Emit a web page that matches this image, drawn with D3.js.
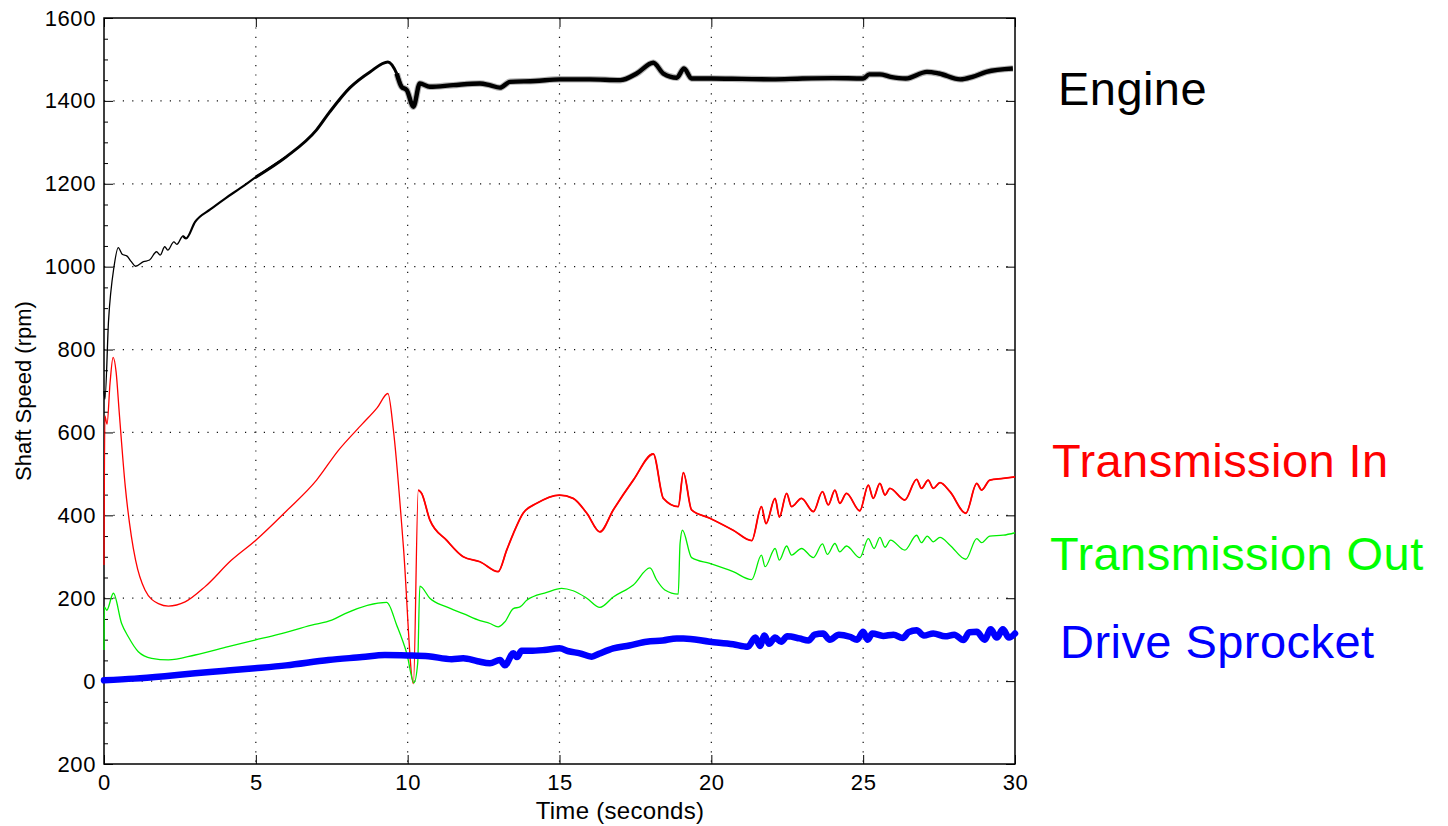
<!DOCTYPE html>
<html>
<head>
<meta charset="utf-8">
<script src="https://cdn.jsdelivr.net/npm/d3@7/dist/d3.min.js"></script>
<style>
  html, body { margin: 0; padding: 0; background: #fff; }
  svg { display: block; font-family: "Liberation Sans", Arial, Helvetica, sans-serif; }
</style>
</head>
<body>
<svg id="chart" width="1448" height="826"></svg>
<script>
// ---------------- DATA ----------------
const xTickValues = [0, 5, 10, 15, 20, 25, 30];
const xTickLabels = ["0", "5", "10", "15", "20", "25", "30"];
const yTickValues = [-200, 0, 200, 400, 600, 800, 1000, 1200, 1400, 1600];
const yTickLabels = ["200", "0", "200", "400", "600", "800", "1000", "1200", "1400", "1600"];

const xLabel = "Time (seconds)";
const yLabel = "Shaft Speed (rpm)";
const seriesNames = ["Engine", "Transmission In", "Transmission Out", "Drive Sprocket"];

const engineT = [0, 0.03, 0.15, 0.33, 0.47, 0.6, 0.75, 0.9, 1.04, 1.3, 1.5, 1.73, 1.85, 2.0, 2.1, 2.3, 2.4, 2.6, 2.7, 3.0, 3.5, 4.0, 4.5, 5.0, 6.0, 7.0, 7.44, 8.1, 8.76, 9.35, 9.64, 9.8, 9.97, 10.19, 10.4, 10.73, 11.5, 12.38, 12.7, 13.04, 13.37, 14.2, 15.0, 16.0, 17.0, 17.54, 18.09, 18.42, 18.86, 19.1, 19.35, 20, 21, 22, 23, 24, 25, 25.2, 25.55, 25.9, 26.4, 27.1, 27.5, 28.2, 28.6, 29.06, 29.93];
const engineV = [700, 680, 870, 1000, 1046, 1030, 1026, 1012, 1001, 1012, 1016, 1036, 1028, 1048, 1040, 1060, 1054, 1074, 1068, 1108, 1138, 1165, 1190, 1216, 1265, 1330, 1374, 1432, 1470, 1494, 1466, 1434, 1426, 1386, 1442, 1434, 1438, 1442, 1438, 1432, 1446, 1448, 1452, 1452, 1450, 1466, 1492, 1466, 1456, 1478, 1454, 1454, 1453, 1452, 1454, 1455, 1454, 1464, 1464, 1458, 1454, 1470, 1466, 1452, 1458, 1470, 1478];

const transInT = [0, 0.03, 0.1, 0.2, 0.3, 0.4, 0.5, 0.7, 0.9, 1.04, 1.35, 1.79, 2.12, 2.67, 3.33, 4.2, 5, 6, 7, 7.7, 8.5, 9.0, 9.35, 9.53, 9.86, 10.19, 10.35, 10.46, 10.73, 11.28, 11.83, 12.38, 12.98, 13.26, 13.48, 13.8, 14.25, 15.0, 15.45, 15.9, 16.33, 16.77, 17.43, 18.09, 18.42, 18.91, 19.08, 19.35, 19.95, 20.72, 21.33, 21.65, 21.8, 22.1, 22.24, 22.48, 22.64, 22.97, 23.36, 23.66, 23.85, 24.07, 24.23, 24.45, 24.89, 25.17, 25.33, 25.55, 25.72, 25.88, 26.37, 26.76, 26.92, 27.14, 27.31, 27.53, 27.86, 28.38, 28.74, 28.9, 29.17, 29.61, 30];
const transInV = [280, 640, 620, 720, 781, 745, 650, 470, 350, 292, 220, 187, 181, 191, 228, 292, 340, 410, 485, 555, 620, 660, 694, 606, 324, -6, 461, 453, 389, 340, 300, 288, 264, 316, 356, 405, 429, 449, 441, 405, 360, 413, 485, 548, 441, 421, 503, 413, 393, 364, 339, 421, 380, 441, 396, 453, 421, 441, 409, 457, 425, 461, 429, 453, 411, 473, 441, 477, 449, 465, 437, 487, 465, 485, 465, 479, 457, 405, 477, 461, 485, 489, 493];

const transOutT = [0, 0.01, 0.09, 0.31, 0.58, 0.8, 1.13, 1.57, 2.12, 3.0, 4.09, 4.97, 5.74, 6.84, 7.5, 7.94, 9.31, 9.64, 9.97, 10.21, 10.33, 10.4, 10.73, 11.28, 11.83, 12.38, 12.71, 12.98, 13.2, 13.48, 13.7, 13.92, 14.58, 15.07, 15.45, 15.9, 16.33, 16.77, 17.43, 17.98, 18.2, 18.47, 18.91, 18.97, 19.05, 19.35, 19.95, 20.72, 21.33, 21.65, 21.77, 22.1, 22.24, 22.48, 22.64, 22.97, 23.36, 23.66, 23.82, 24.07, 24.23, 24.45, 24.89, 25.17, 25.36, 25.55, 25.72, 25.9, 26.37, 26.76, 26.92, 27.11, 27.31, 27.53, 27.86, 28.38, 28.74, 28.9, 29.17, 29.61, 30];
const transOutV = [75, 179, 171, 212, 139, 107, 71, 55, 51, 63, 83, 99, 113, 135, 147, 163, 190, 135, 67, -4, 43, 229, 200, 179, 163, 146, 139, 131, 143, 175, 179, 195, 214, 224, 218, 200, 178, 203, 232, 273, 244, 220, 210, 332, 364, 298, 284, 264, 245, 304, 276, 320, 292, 326, 304, 320, 298, 331, 306, 332, 312, 326, 298, 344, 320, 347, 323, 340, 316, 352, 334, 350, 336, 347, 328, 294, 344, 334, 350, 352, 358];

const sprocketT = [0, 1, 2, 3, 4, 4.97, 6, 7.39, 8.5, 9.25, 10, 10.68, 11.45, 11.83, 12.3, 12.71, 13.04, 13.2, 13.48, 13.6, 13.75, 14.03, 14.5, 15.0, 15.3, 15.67, 16.06, 16.3, 16.77, 17.3, 17.87, 18.4, 18.86, 19.08, 19.95, 20.72, 21.2, 21.45, 21.6, 21.75, 21.9, 22.1, 22.3, 22.5, 22.9, 23.2, 23.4, 23.68, 23.9, 24.2, 24.56, 24.8, 25.0, 25.15, 25.3, 25.66, 26.0, 26.3, 26.5, 26.76, 27.0, 27.31, 27.7, 28.0, 28.3, 28.5, 28.74, 29.0, 29.2, 29.4, 29.6, 29.8, 30];
const sprocketV = [2, 6, 12, 19, 25, 31, 38, 51, 58, 63, 62, 60, 53, 55, 48, 43, 51, 38, 67, 58, 73, 73, 75, 79, 72, 67, 59, 66, 79, 86, 95, 98, 103, 103, 95, 89, 83, 105, 85, 110, 90, 105, 95, 108, 103, 98, 112, 115, 100, 112, 107, 100, 119, 100, 115, 109, 112, 104, 118, 123, 110, 115, 108, 112, 99, 118, 119, 100, 125, 105, 125, 105, 115];

// ---------------- LAYOUT ----------------
const svg = d3.select("#chart");
const L = 104, R = 1015, T = 18, B = 764;
const x = d3.scaleLinear().domain([0, 30]).range([L, R]);
const y = d3.scaleLinear().domain([-200, 1600]).range([B, T]);
const FONT = 22;

// grid (dotted)
const grid = svg.append("g");
grid.selectAll("line.gx").data(xTickValues.filter(v => v > 0 && v < 30)).enter().append("line")
  .attr("x1", d => x(d)).attr("x2", d => x(d)).attr("y1", T).attr("y2", B)
  .attr("stroke", "#111").attr("stroke-width", 1.2).attr("stroke-dasharray", "1.2,8.2");
grid.selectAll("line.gy").data(yTickValues.filter(v => v > -200 && v < 1600)).enter().append("line")
  .attr("y1", d => y(d)).attr("y2", d => y(d)).attr("x1", L).attr("x2", R)
  .attr("stroke", "#111").attr("stroke-width", 1.2).attr("stroke-dasharray", "1.2,8.2");

// axes
const ax = svg.append("g");
ax.append("g").attr("transform", `translate(0,${B})`)
  .call(d3.axisBottom(x).tickValues(xTickValues).tickFormat((d, i) => xTickLabels[i]).tickSize(-9).tickPadding(10))
  .call(g => g.select(".domain").remove());
ax.append("g").attr("transform", `translate(0,${T})`)
  .call(d3.axisTop(x).tickValues(xTickValues).tickFormat("").tickSize(-9))
  .call(g => g.select(".domain").remove());
ax.append("g").attr("transform", `translate(${L},0)`)
  .call(d3.axisLeft(y).tickValues(yTickValues).tickFormat((d, i) => yTickLabels[i]).tickSize(-9).tickPadding(8))
  .call(g => g.select(".domain").remove());
ax.append("g").attr("transform", `translate(${R},0)`)
  .call(d3.axisRight(y).tickValues(yTickValues).tickFormat("").tickSize(-9))
  .call(g => g.select(".domain").remove());
// minor ticks on left
ax.append("g").attr("transform", `translate(${L},0)`)
  .call(d3.axisLeft(y).tickValues(d3.range(-150, 1600, 50).filter(v => v % 200 !== 0)).tickFormat("").tickSize(-4))
  .call(g => g.select(".domain").remove());
ax.selectAll(".tick line").attr("stroke", "#000").attr("stroke-width", 1);
ax.selectAll(".tick text").attr("font-size", FONT).attr("fill", "#000")
  .attr("font-family", "'Liberation Sans', Arial, sans-serif").style("letter-spacing", "0.6px");

// box
svg.append("rect").attr("x", L).attr("y", T).attr("width", R - L).attr("height", B - T)
  .attr("fill", "none").attr("stroke", "#000").attr("stroke-width", 1.5);

// axis labels
svg.append("text").attr("x", 620).attr("y", 819).attr("text-anchor", "middle")
  .attr("font-size", 24).style("letter-spacing", "0.3px").text(xLabel);
svg.append("text").attr("transform", `translate(31,${(T + B) / 2}) rotate(-90)`).attr("text-anchor", "middle")
  .attr("font-size", FONT).text(yLabel);

// ---------------- LINES ----------------
const plot = svg.append("g");
const line = d3.line().x(d => x(d[0])).y(d => y(d[1])).curve(d3.curveMonotoneX);
const zip = (ts, vs) => ts.map((t, i) => [t, vs[i]]);
const seg = (pts, t0, t1) => pts.filter(p => p[0] >= t0 && p[0] <= t1);

const engine = zip(engineT, engineV);
const tin = zip(transInT, transInV);
const tout = zip(transOutT, transOutV);
const spr = zip(sprocketT, sprocketV);

plot.append("path").datum(tin).attr("d", line).attr("fill", "none").attr("stroke", "#ff0000").attr("stroke-width", 1.3);
plot.append("path").datum(seg(tin, 10.35, 30)).attr("d", line).attr("fill", "none").attr("stroke", "#ff0000").attr("stroke-width", 1.8);
plot.append("path").datum(tout).attr("d", line).attr("fill", "none").attr("stroke", "#00ee00").attr("stroke-width", 1.3);
plot.append("path").datum(spr).attr("d", line).attr("fill", "none").attr("stroke", "#0000ff")
  .attr("stroke-width", 6.5).attr("stroke-linejoin", "round").attr("stroke-linecap", "round");

const blk = (pts, w, col, op) => plot.append("path").datum(pts).attr("d", line).attr("fill", "none")
  .attr("stroke", col).attr("stroke-width", w).attr("opacity", op).attr("stroke-linejoin", "round");
blk(seg(engine, 0, 2.7), 1.3, "#000", 1);
blk(seg(engine, 2.6, 6), 2.2, "#000", 1);
blk(seg(engine, 5.0, 9.8), 3.0, "#000", 1);
blk(seg(engine, 9.64, 30), 6.5, "#777", 0.55);
blk(seg(engine, 9.64, 30), 4.4, "#000", 1);

// ---------------- SERIES LABELS ----------------
const labelColors = ["#000000", "#ff0000", "#00ff00", "#0000ff"];
const labelPos = [[1058, 105], [1052, 477], [1050, 570], [1060, 658]];
svg.selectAll("text.series").data(seriesNames).enter().append("text")
  .attr("class", "series")
  .attr("x", (d, i) => labelPos[i][0]).attr("y", (d, i) => labelPos[i][1])
  .attr("font-size", 47).style("letter-spacing", "0.45px")
  .attr("fill", (d, i) => labelColors[i]).text(d => d);
</script>
</body>
</html>
